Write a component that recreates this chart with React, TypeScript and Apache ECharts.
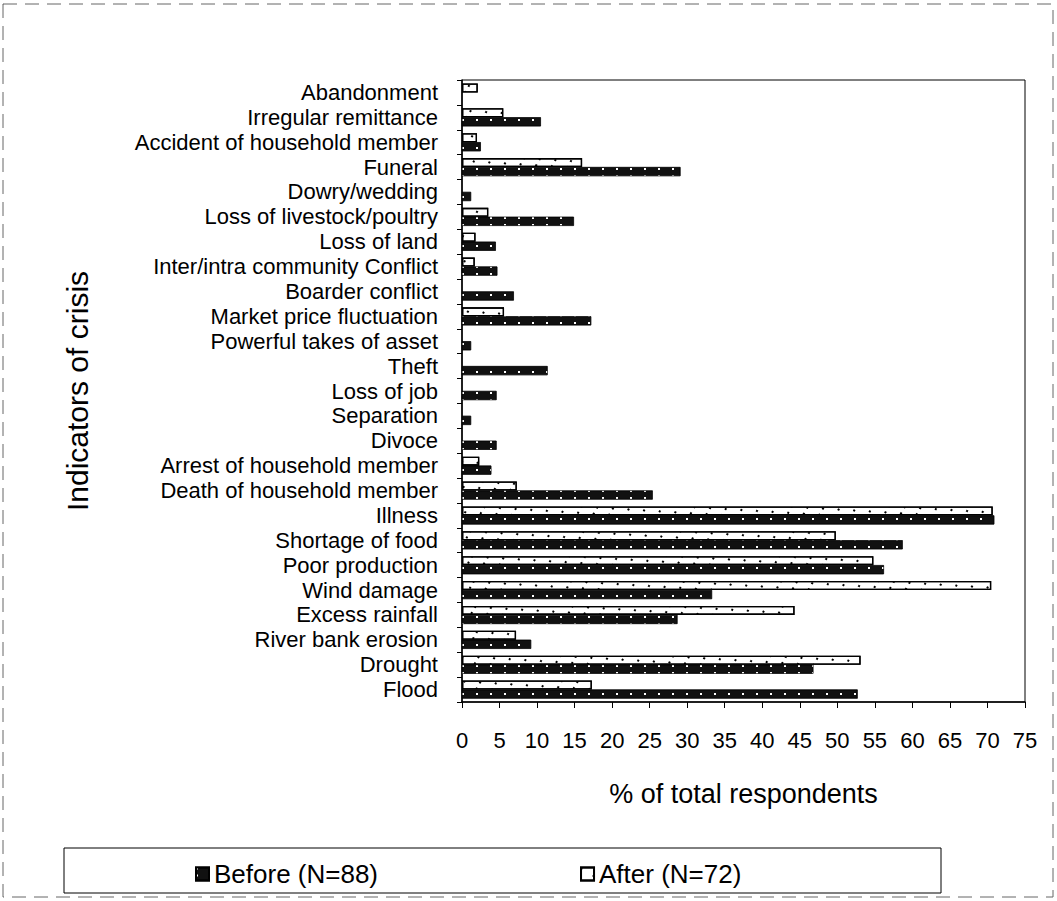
import React, { useEffect, useRef } from "react";
import * as echarts from "echarts";

const categories = [
  "Abandonment",
  "Irregular remittance",
  "Accident of household member",
  "Funeral",
  "Dowry/wedding",
  "Loss of livestock/poultry",
  "Loss of land",
  "Inter/intra community Conflict",
  "Boarder conflict",
  "Market price fluctuation",
  "Powerful takes of asset",
  "Theft",
  "Loss of job",
  "Separation",
  "Divoce",
  "Arrest of household member",
  "Death of household member",
  "Illness",
  "Shortage of food",
  "Poor production",
  "Wind damage",
  "Excess rainfall",
  "River bank erosion",
  "Drought",
  "Flood",
];

const beforeValues = [
  0, 10.5, 2.5, 29.1, 1.2, 14.9, 4.5, 4.7, 6.9, 17.2, 1.2, 11.4, 4.6, 1.2, 4.6,
  3.9, 25.4, 70.9, 58.7, 56.2, 33.3, 28.7, 9.2, 46.8, 52.7,
];

const afterValues = [
  2.1, 5.5, 2.0, 16.0, 0, 3.5, 1.8, 1.7, 0, 5.6, 0, 0, 0, 0, 0, 2.3, 7.3, 70.7,
  49.8, 54.8, 70.5, 44.3, 7.2, 53.1, 17.3,
];

const xTicks = [0, 5, 10, 15, 20, 25, 30, 35, 40, 45, 50, 55, 60, 65, 70, 75];

const FONT = "'Liberation Sans', Arial, Helvetica, sans-serif";

export default function App() {
  const ref = useRef<HTMLDivElement>(null);

  useEffect(() => {
    if (!ref.current) return;
    const chart = echarts.init(ref.current, undefined, { renderer: "svg" });
    const toData = (arr: number[]) => arr.map((v) => (v > 0 ? v : null));
    chart.setOption({
      animation: false,
      backgroundColor: "#fff",
      aria: { enabled: true, decal: { show: true } },
      grid: {
        left: 462,
        right: 32,
        top: 80,
        bottom: 199,
        show: true,
        borderColor: "#000",
        borderWidth: 1,
      },
      legend: {
        left: 190,
        top: 856,
        itemGap: 202,
        itemWidth: 13,
        itemHeight: 13,
        icon: "rect",
        data: ["Before (N=88)", "After (N=72)"],
        textStyle: { fontSize: 26, color: "#000", fontFamily: FONT },
      },
      xAxis: {
        type: "value",
        min: 0,
        max: 75,
        interval: 5,
        name: "% of total respondents",
        nameLocation: "middle",
        nameGap: 78,
        nameTextStyle: { fontSize: 27, color: "#000", fontFamily: FONT },
        axisLine: { show: true, lineStyle: { color: "#000", width: 1.5 } },
        axisTick: { show: true, length: 6, lineStyle: { color: "#000" } },
        axisLabel: {
          fontSize: 22,
          color: "#000",
          fontFamily: FONT,
          margin: 27,
          formatter: (v: number) => (xTicks.includes(v) ? String(v) : ""),
        },
        splitLine: { show: false },
      },
      yAxis: {
        type: "category",
        inverse: true,
        data: categories,
        name: "Indicators of crisis",
        nameLocation: "middle",
        nameGap: 370,
        nameTextStyle: { fontSize: 30, color: "#000", fontFamily: FONT },
        axisLine: { show: true, lineStyle: { color: "#000", width: 1.5 } },
        axisTick: { show: true, length: 5, lineStyle: { color: "#000" } },
        axisLabel: {
          interval: 0,
          fontSize: 22,
          color: "#000",
          fontFamily: FONT,
          margin: 24,
          padding: [0, 0, 4, 0],
        },
      },
      series: [
        {
          name: "After (N=72)",
          type: "bar",
          data: toData(afterValues),
          barWidth: 9,
          barGap: "0%",
          itemStyle: {
            color: "#fff",
            borderColor: "#000",
            borderWidth: 1.3,
            decal: {
              symbol: "rect",
              symbolSize: 1,
              color: "#000",
              dashArrayX: [2, 12],
              dashArrayY: [2, 5],
            },
          },
        },
        {
          name: "Before (N=88)",
          type: "bar",
          data: toData(beforeValues),
          barWidth: 9,
          barGap: "0%",
          itemStyle: {
            color: "#111",
            borderColor: "#000",
            borderWidth: 0.5,
            decal: {
              symbol: "rect",
              symbolSize: 1,
              color: "#fff",
              dashArrayX: [2, 12],
              dashArrayY: [2, 5],
            },
          },
        },
      ],
      graphic: [
        {
          type: "rect",
          shape: { x: 64, y: 848, width: 877, height: 45 },
          style: { fill: "none", stroke: "#000", lineWidth: 1 },
          silent: true,
        },
        {
          type: "rect",
          shape: { x: 3, y: 4, width: 1050, height: 893 },
          style: {
            fill: "none",
            stroke: "#666",
            lineWidth: 1,
            lineDash: [14, 8],
          },
          silent: true,
          z: -1,
        },
      ],
    });
    return () => chart.dispose();
  }, []);

  return (
    <div
      ref={ref}
      style={{ position: "fixed", left: 0, top: 0, width: 1057, height: 901 }}
    />
  );
}
